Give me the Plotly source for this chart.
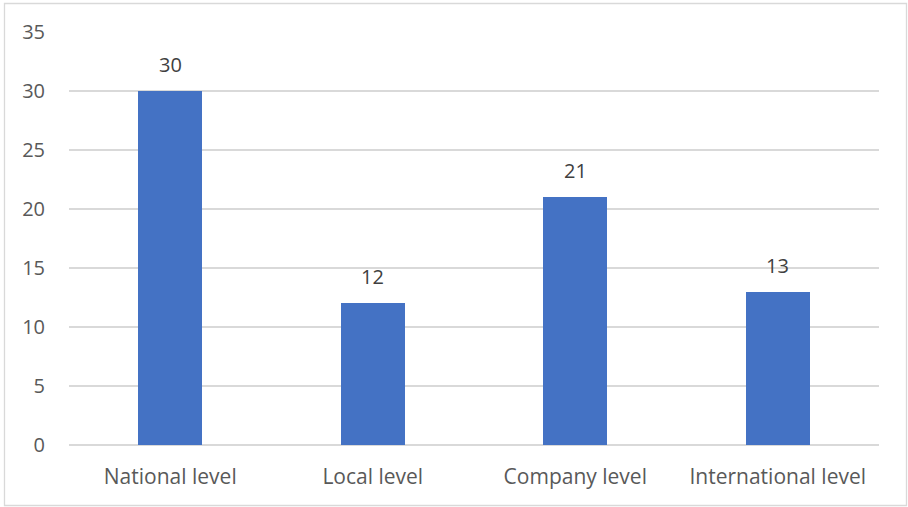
import plotly.graph_objects as go

categories = ["National level", "Local level", "Company level", "International level"]
values = [30, 12, 21, 13]
y_ticks = [0, 5, 10, 15, 20, 25, 30, 35]

W, H = 908, 507
ml, mr, mt, mb = 69, 29, 32, 62
pw, ph = W - ml - mr, H - mt - mb

font_family = "'Open Sans', sans-serif"
grey = "#595959"
fsize = 20

fig = go.Figure(
    go.Bar(
        x=categories,
        y=values,
        width=0.316,
        marker=dict(color="#4472C4", line=dict(width=0)),
        hoverinfo="skip",
    )
)

for c, v in zip(categories, values):
    fig.add_annotation(
        x=c, y=v, text=str(v), showarrow=False,
        yanchor="bottom", yshift=11,
        font=dict(family=font_family, size=fsize, color="#404040"),
    )

# outer chart border
fig.add_shape(
    type="rect", xref="paper", yref="paper",
    x0=(4.5 - ml) / pw, x1=(906.5 - ml) / pw,
    y0=-(505.5 - mt - ph) / ph, y1=1 + (mt - 3.5) / ph,
    line=dict(color="#D9D9D9", width=1.3), layer="below",
)

fig.update_layout(
    width=W, height=H,
    margin=dict(l=ml, r=mr, t=mt, b=mb),
    paper_bgcolor="white", plot_bgcolor="white",
    showlegend=False,
    bargap=0,
    font=dict(family=font_family, size=fsize, color=grey),
    xaxis=dict(
        showgrid=False, showline=False, ticks="",
        tickfont=dict(size=21, color=grey),
        ticklabelstandoff=17,
    ),
    yaxis=dict(
        range=[0, 35], tickvals=y_ticks,
        showgrid=True, gridcolor="#D9D9D9", gridwidth=1.5,
        zeroline=True, zerolinecolor="#D9D9D9", zerolinewidth=1.5,
        showline=False, ticks="",
        tickfont=dict(size=fsize, color=grey),
        ticklabelstandoff=23,
    ),
)

fig.write_html("out.html")
